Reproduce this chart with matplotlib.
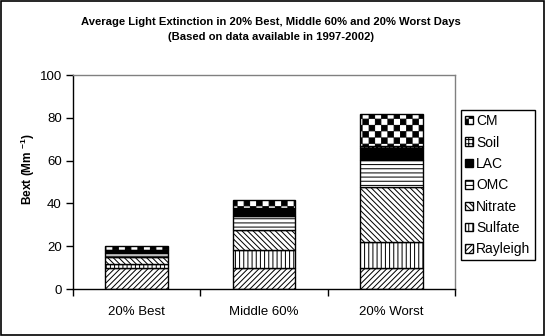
import warnings
import numpy as np
import matplotlib
matplotlib.use("Agg")
import matplotlib.pyplot as plt
import matplotlib.hatch as mhatch
from matplotlib.path import Path
from matplotlib.patches import Rectangle

warnings.filterwarnings("ignore")

categories = ["20% Best", "Middle 60%", "20% Worst"]
species = ["Rayleigh", "Sulfate", "Nitrate", "OMC", "LAC", "Soil", "CM"]
rayleigh = [10.0, 10.0, 10.0]
sulfate = [1.8, 8.2, 11.8]
nitrate = [3.3, 9.4, 26.0]
omc = [1.6, 6.5, 12.5]
lac = [1.5, 3.6, 5.7]
soil = [0.2, 0.3, 0.6]
cm = [1.7, 3.5, 15.2]
yticks = [0, 20, 40, 60, 80, 100]


class CheckerHatch(mhatch.HatchPatternBase):
    # checkerboard hatch, triggered by 'c' in the hatch string
    def __init__(self, hatch, density):
        self.num_rows = hatch.count('c') * 4
        self.num_vertices = 10 * self.num_rows ** 2

    def set_vertices_and_codes(self, vertices, codes):
        n = self.num_rows
        s = 0.5 / n
        d = 0.004
        sq = np.array([[d, d], [s - d, d], [s - d, s - d], [d, s - d], [d, d]])
        parts = []
        for i in range(n):
            for j in range(n):
                parts.append(sq + [2 * s * i, 2 * s * j])
                parts.append(sq + [2 * s * i + s, 2 * s * j + s])
        vertices[:] = np.concatenate(parts)
        codes[:] = np.tile([Path.MOVETO, Path.LINETO, Path.LINETO,
                            Path.LINETO, Path.CLOSEPOLY], 2 * n * n)


mhatch._hatch_types.append(CheckerHatch)

plt.rcParams['font.family'] = ['Liberation Sans', 'DejaVu Sans']
plt.rcParams['mathtext.fontset'] = 'custom'
plt.rcParams['mathtext.rm'] = 'Liberation Sans'
plt.rcParams['mathtext.default'] = 'regular'
plt.rcParams['hatch.linewidth'] = 0.72
plt.rcParams['hatch.color'] = 'black'

fig = plt.figure(figsize=(5.46, 3.36), dpi=100)
ax = fig.add_axes([73 / 546, 47 / 336, 382 / 546, 214 / 336])

series = [rayleigh, sulfate, nitrate, omc, lac, soil, cm]
hatches = ['//////', '||||', '\\\\\\\\\\\\', '----', None, '++++', 'cc']
faces = ['white', 'white', 'white', 'white', 'black', 'white', 'white']

x = np.arange(len(categories))
bottom = np.zeros(len(categories))
handles = []
for name, vals, h, fc in zip(species, series, hatches, faces):
    b = ax.bar(x, vals, 0.49, bottom=bottom, color=fc, edgecolor='black',
               linewidth=1.0, hatch=h, label=name)
    handles.append(b)
    bottom += np.array(vals)

ax.set_xlim(-0.5, 2.5)
ax.set_ylim(0, 100)
ax.set_yticks(yticks)
ax.set_xticks(x)
ax.set_xticklabels(categories)
ax.set_xticks(np.arange(len(categories) + 1) - 0.5, minor=True)
ax.tick_params(axis='x', which='major', length=0, pad=12, labelsize=9.5)
ax.tick_params(axis='x', which='minor', length=5, width=1, direction='out')
ax.tick_params(axis='y', length=5, width=1, direction='out', pad=3,
               labelsize=9.5)
for s in ['left', 'bottom']:
    ax.spines[s].set_color('black')
    ax.spines[s].set_linewidth(1.0)
for s in ['top', 'right']:
    ax.spines[s].set_color('#808080')
    ax.spines[s].set_linewidth(1.0)

ax.set_ylabel('Bext (Mm $^{-1}$)', fontsize=8.6, fontweight='bold')
ax.yaxis.set_label_coords(-0.094, 0.56)

fig.text(271 / 546, 1 - 22 / 336,
         'Average Light Extinction in 20% Best, Middle 60% and 20% Worst Days',
         ha='center', va='center', fontsize=8.1, fontweight='bold')
fig.text(271 / 546, 1 - 37 / 336, '(Based on data available in 1997-2002)',
         ha='center', va='center', fontsize=8.1, fontweight='bold')

leg = fig.legend(handles[::-1], species[::-1], loc='upper left',
                 bbox_to_anchor=(461 / 546, 1 - 110 / 336),
                 fontsize=10, frameon=True, fancybox=False,
                 edgecolor='black', framealpha=1, borderpad=0.3,
                 handlelength=0.55, handleheight=0.55, handletextpad=0.25,
                 labelspacing=0.53, borderaxespad=0)
leg.get_frame().set_linewidth(1.0)

fig.patches.append(Rectangle((0.5 / 546, 1.5 / 336), 543 / 546, 334 / 336,
                             transform=fig.transFigure, fill=False,
                             edgecolor='black', linewidth=1.2))

fig.savefig('out.png', dpi=100)
